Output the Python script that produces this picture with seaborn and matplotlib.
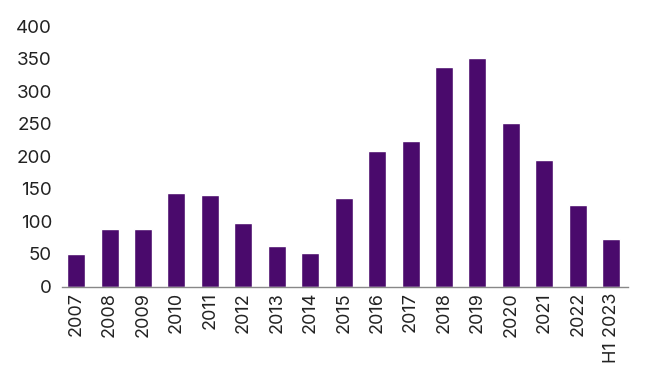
import numpy as np
import pandas as pd
import seaborn as sns
import matplotlib.pyplot as plt

years = ["2007", "2008", "2009", "2010", "2011", "2012", "2013", "2014", "2015",
         "2016", "2017", "2018", "2019", "2020", "2021", "2022", "H1 2023"]
values = [50, 88, 88, 143, 141, 97, 62, 51, 136, 208, 224, 337, 351, 251, 195, 125, 73]
yticks = [0, 50, 100, 150, 200, 250, 300, 350, 400]

sns.set_style("white")
plt.rcParams['font.family'] = ['Inter', 'DejaVu Sans']

df = pd.DataFrame({"year": years, "value": values})

fig = plt.figure(figsize=(6.5, 3.77), dpi=100)
ax = fig.add_axes([0.095, 0.24, 0.871, 0.691])
sns.barplot(data=df, x="year", y="value", color="#4A0A6C", saturation=1, width=0.54, ax=ax)

ax.set_ylim(0, 400)
ax.set_xlim(-0.43, 16.5)
ax.set_yticks(yticks)
ax.set_yticklabels([str(t) for t in yticks], fontsize=13.5, color="#222222")
ax.set_xticks(range(len(years)))
ax.set_xticklabels(years, rotation=90, fontsize=13, color="#222222")
ax.tick_params(axis="x", length=0, pad=4)
ax.tick_params(axis="y", length=0, pad=7)
ax.set_xlabel("")
ax.set_ylabel("")
for s in ["top", "right", "left"]:
    ax.spines[s].set_visible(False)
ax.spines["bottom"].set_color("#888888")
ax.spines["bottom"].set_linewidth(1)

fig.savefig("out.png", dpi=100)
